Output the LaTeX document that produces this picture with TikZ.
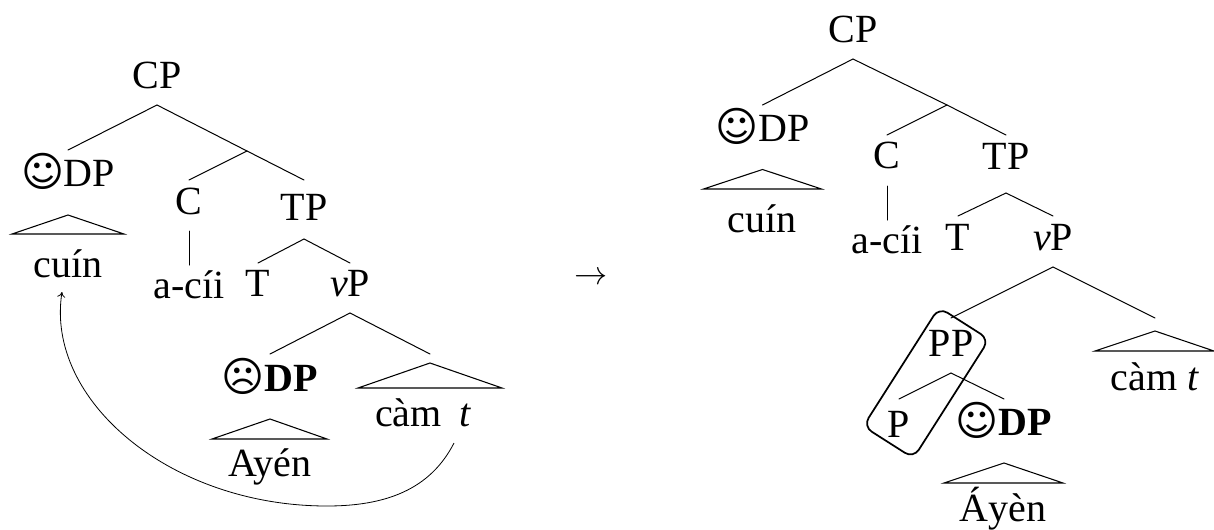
\documentclass[tikz,border=0pt]{standalone}
\usepackage{fontspec}
\setmainfont{Liberation Serif}
\newfontfamily\facefont{DejaVu Sans}
\newcommand{\happy}{\raisebox{-0.5pt}{\fontsize{31}{31}\facefont ☺}\hspace{-0.5pt}}
\newcommand{\happyb}{\raisebox{-0.5pt}{\fontsize{31}{31}\facefont\bfseries ☺}\hspace{0pt}}
\newcommand{\sad}{\raisebox{-0.5pt}{\fontsize{31}{31}\facefont\bfseries ☹}\hspace{0pt}}
\tikzset{
  lab/.style 2 args={inner sep=0pt,outer sep=0pt,anchor=base,text height=#1*0.75pt,text depth=#2*0.75pt,font=\fontsize{30}{30}\selectfont},
  branch/.style={line width=0.75pt,line cap=round},
  roof/.style={line width=0.8pt,line join=miter},
  move/.style={line width=0.6pt,-{To[length=4pt,width=6pt]}},
  hl/.style={draw,line width=1.3pt,rounded corners=7.5pt,rotate=57.5,minimum width=105.75pt,minimum height=44.6pt,inner sep=0pt}
}
\usetikzlibrary{arrows.meta}
\begin{document}
\begin{tikzpicture}[x=0.75pt,y=-0.75pt]
\path[use as bounding box] (0,0) rectangle (1214,529);
% left tree
\node[lab={20}{17}] (lCP) at (157,88) {CP};
\node[lab={36}{29}] (lDP) at (68,186) {\happy DP};
\node[lab={20}{5}] (lcuin) at (68,277) {cuín};
\node[lab={34}{17}] (lC) at (189,214) {C};
\node[lab={33}{5}] (lacii) at (189,298) {a-cíi};
\node[lab={40}{19}] (lTP) at (304,220) {TP};
\node[lab={33}{3}] (lT) at (258,296) {T};
\node[lab={33}{17}] (lvP) at (350,296) {\textit{v}P};
\node[lab={37}{28}] (lbad) at (270,391) {\sad\textbf{DP}};
\node[lab={20}{5}] (lAyen) at (270,476) {Ayén};
\node[lab={20}{5}] (lcam) at (423,426) {càm\hspace{13pt}\textit{t}};
\coordinate (lj) at (247,151);
\coordinate (lvr) at (430,354);
\coordinate (ltopr) at (430,363);
\coordinate (mvfrom) at (454,443);
\coordinate (mvlow) at (327,506);
\coordinate (mvto) at (62,292);
\draw[branch] (lCP.south) -- (lDP.north);
\draw[branch] (lCP.south) -- (lj);
\draw[branch] (lj) -- (lC.north);
\draw[branch] (lj) -- (lTP.north);
\draw[branch] (lC.south) -- (lacii.north);
\draw[branch] (lTP.south) -- (lT.north);
\draw[branch] (lTP.south) -- (lvP.north);
\draw[branch] (lvP.south) -- (lbad.north);
\draw[branch] (lvP.south) -- (lvr);
\draw[roof] (lDP.south) -- ++(-56,19) -- ++(112,0) -- cycle;
\draw[roof] (lbad.south) -- ++(-58,20) -- ++(115,0) -- cycle;
\draw[roof] (ltopr) -- ++(-72,25) -- ++(144,0) -- cycle;
\draw[move] (mvfrom) .. controls (430,490) and (385,506) .. (mvlow) .. controls (170,506) and (45,400) .. (mvto);
% arrow
\node[inner sep=0pt,font=\fontsize{29}{29}\selectfont] (arr) at (591,278) {$\rightarrow$};
% right tree
\node[lab={20}{17}] (rCP) at (853,42) {CP};
\node[lab={36}{28.5}] (rDP) at (762.5,141) {\happy DP};
\node[lab={20}{5}] (rcuin) at (762,232) {cuín};
\node[lab={33}{18}] (rC) at (887,168) {C};
\node[lab={33}{5}] (racii) at (887,253) {a-cíi};
\node[lab={34}{24}] (rTP) at (1006,169) {TP};
\node[lab={34}{3}] (rT) at (958,250) {T};
\node[lab={34}{17}] (rvP) at (1053,250) {\textit{v}P};
\node[lab={38}{17}] (rPP) at (951,356) {PP};
\node[lab={38}{5}] (rP) at (899,437) {P};
\node[lab={36}{28}] (rgood) at (1004,435) {\happyb\textbf{DP}};
\node[lab={20}{5}] (rAyen) at (1003,521) {Áyèn};
\node[lab={20}{5}] (rcam) at (1155,390) {càm \textit{t}};
\coordinate (rj) at (947,105);
\coordinate (rvr) at (1155,318);
\coordinate (rtopr) at (1155,331);
\draw[branch] (rCP.south) -- (rDP.north);
\draw[branch] (rCP.south) -- (rj);
\draw[branch] (rj) -- (rC.north);
\draw[branch] (rj) -- (rTP.north);
\draw[branch] (rC.south) -- (racii.north);
\draw[branch] (rTP.south) -- (rT.north);
\draw[branch] (rTP.south) -- (rvP.north);
\draw[branch] (rvP.south) -- (rPP.north);
\draw[branch] (rvP.south) -- (rvr);
\draw[branch] (rPP.south) -- (rP.north);
\draw[branch] (rPP.south) -- (rgood.north);
\draw[roof] (rDP.south) -- ++(-59,19.5) -- ++(118,0) -- cycle;
\draw[roof] (rgood.south) -- ++(-60,20) -- ++(119,0) -- cycle;
\draw[roof] (rtopr) -- ++(-60,20) -- ++(119,0) -- cycle;
\node[hl] (box) at (926.2,382.8) {};
\end{tikzpicture}
\end{document}
